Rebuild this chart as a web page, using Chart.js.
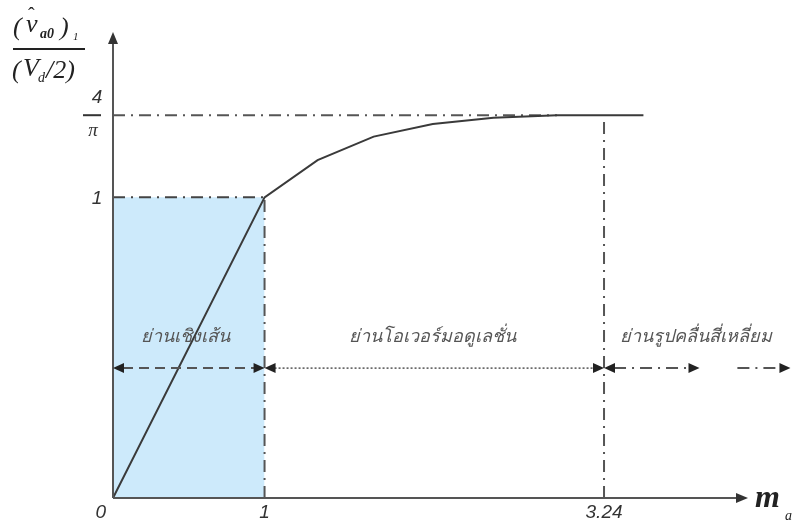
<!DOCTYPE html>
<html>
<head>
<meta charset="utf-8">
<script src="https://cdn.jsdelivr.net/npm/chart.js@4"></script>
<style>
  html,body{margin:0;padding:0;background:#fff}
  #wrap{width:796px;height:527px;position:relative}
</style>
</head>
<body>
<div id="wrap"><canvas id="ma-chart"></canvas></div>
<script>
// fundamental output vs. modulation index
const curveX = [0, 1, 1.35, 1.72, 2.11, 2.51, 2.93, 3.50];
const curveY = [0, 1, 1.124, 1.202, 1.244, 1.265, 1.273, 1.273];
const SQ = 4 / Math.PI;

const xTicks = [0, 1, 3.24];
const xTickLabels = ['0', '1', '3.24'];
const yTicks = [1, SQ];

const regionNames = ['ย่านเชิงเส้น', 'ย่านโอเวอร์มอดูเลชั่น', 'ย่านรูปคลื่นสี่เหลี่ยม'];
const regionCenters = [0.48, 2.11, 3.85];
const regionStarts = [0, 1, 3.24, 4.12];
const regionEnds = [1, 3.24, 3.87, 4.47];
const arrowLevel = 0.432;

const pts = (xs, ys) => xs.map((x, i) => ({ x, y: ys[i] }));
const DASHDOT = [12, 6, 2, 6];

const overlay = {
  id: 'overlay',
  afterDraw(chart) {
    const { ctx, scales: { x, y } } = chart;
    const px = v => x.getPixelForValue(v), py = v => y.getPixelForValue(v);
    const x0 = px(0), y0 = py(0);
    ctx.save();

    const head = (tx, ty, dir, len, w) => {
      ctx.beginPath();
      if (dir === 'r') { ctx.moveTo(tx, ty); ctx.lineTo(tx - len, ty - w); ctx.lineTo(tx - len, ty + w); }
      if (dir === 'l') { ctx.moveTo(tx, ty); ctx.lineTo(tx + len, ty - w); ctx.lineTo(tx + len, ty + w); }
      if (dir === 'u') { ctx.moveTo(tx, ty); ctx.lineTo(tx - w, ty + len); ctx.lineTo(tx + w, ty + len); }
      ctx.closePath(); ctx.fill();
    };

    // axes with arrows
    ctx.strokeStyle = '#555'; ctx.fillStyle = '#333'; ctx.lineWidth = 2;
    ctx.beginPath(); ctx.moveTo(x0, y0); ctx.lineTo(x0, chart.chartArea.top + 8); ctx.stroke();
    head(x0, chart.chartArea.top, 'u', 12, 5);
    ctx.beginPath(); ctx.moveTo(x0, y0); ctx.lineTo(chart.chartArea.right - 8, y0); ctx.stroke();
    head(chart.chartArea.right, y0, 'r', 12, 5);

    // region arrows
    const ay = py(arrowLevel);
    const styles = [[10, 6], [2, 2], [12, 6, 2, 6], [12, 6, 2, 6]];
    ctx.strokeStyle = '#555'; ctx.fillStyle = '#222';
    regionStarts.forEach((s, i) => {
      const a = px(s), b = px(regionEnds[i]);
      ctx.lineWidth = i === 1 ? 1.5 : 2;
      ctx.setLineDash(styles[i]);
      ctx.beginPath(); ctx.moveTo(a + (i < 3 ? 10 : 0), ay); ctx.lineTo(b - 10, ay); ctx.stroke();
      ctx.setLineDash([]);
      if (i < 3) head(a, ay, 'l', 11, 5);
      head(b, ay, 'r', 11, 5);
    });

    // region names
    ctx.fillStyle = '#555';
    ctx.font = 'italic 18px "Liberation Sans", "DejaVu Sans", sans-serif';
    ctx.textAlign = 'center'; ctx.textBaseline = 'alphabetic';
    regionNames.forEach((n, i) => ctx.fillText(n, px(regionCenters[i]), 342));

    // tick labels
    ctx.fillStyle = '#333';
    ctx.font = 'italic 19px "Liberation Sans", Arial, sans-serif';
    ctx.textBaseline = 'middle';
    xTicks.forEach((v, i) => {
      ctx.textAlign = v === 0 ? 'right' : 'center';
      ctx.fillText(xTickLabels[i], v === 0 ? px(v) - 7 : px(v), y0 + 15);
    });
    ctx.textAlign = 'center';
    ctx.fillText('1', x0 - 16, py(yTicks[0]) + 1);
    const qy = py(yTicks[1]);
    ctx.fillText('4', x0 - 16, qy - 17);
    ctx.fillRect(x0 - 30, qy - 1, 18, 2);
    ctx.font = 'italic 19px "Liberation Serif", serif';
    ctx.fillText('π', x0 - 20, qy + 16);

    // y title fraction
    ctx.fillStyle = '#222';
    ctx.textAlign = 'left'; ctx.textBaseline = 'alphabetic';
    ctx.font = 'italic 26px "Liberation Serif", serif';
    ctx.fillText('(', 13, 35);
    ctx.fillText('v', 26, 32);
    ctx.font = '20px "Liberation Serif", serif';
    ctx.fillText('ˆ', 28, 22);
    ctx.font = 'italic bold 14px "Liberation Serif", serif';
    ctx.fillText('a0', 40, 38);
    ctx.font = 'italic 26px "Liberation Serif", serif';
    ctx.fillText(')', 60, 35);
    ctx.font = 'italic 11px "Liberation Serif", serif';
    ctx.fillText('1', 73, 40);
    ctx.fillRect(13, 48, 72, 2);
    ctx.font = 'italic 26px "Liberation Serif", serif';
    ctx.fillText('(', 12, 78);
    ctx.fillText('V', 23, 76);
    ctx.font = 'italic 14px "Liberation Serif", serif';
    ctx.fillText('d', 38, 82);
    ctx.font = 'italic 26px "Liberation Serif", serif';
    ctx.fillText('/2)', 46, 78);

    // x title
    ctx.font = 'italic bold 32px "Liberation Serif", serif';
    ctx.fillText('m', 755, 507);
    ctx.font = 'italic 14px "Liberation Serif", serif';
    ctx.fillText('a', 785, 520);

    ctx.restore();
  }
};

new Chart(document.getElementById('ma-chart'), {
  type: 'line',
  data: {
    datasets: [
      { data: pts(curveX, curveY), borderColor: '#3a3a3a', borderWidth: 2, pointRadius: 0, tension: 0 },
      { data: pts([0, 2.93], [SQ, SQ]), borderColor: '#555', borderWidth: 2, borderDash: DASHDOT, pointRadius: 0 },
      { data: pts([0, 1], [1, 1]), borderColor: '#444', borderWidth: 2, borderDash: DASHDOT, pointRadius: 0 },
      { data: pts([1, 1], [0, 1]), borderColor: '#555', borderWidth: 2, borderDash: DASHDOT, pointRadius: 0 },
      { data: pts([3.24, 3.24], [0, SQ]), borderColor: '#555', borderWidth: 2, borderDash: DASHDOT, pointRadius: 0 },
      { data: pts([0, 1], [1, 1]), borderWidth: 0, borderColor: 'rgba(0,0,0,0)', backgroundColor: '#cdeafb', fill: 'origin', pointRadius: 0 },
    ],
  },
  options: {
    responsive: true, maintainAspectRatio: false, animation: false,
    layout: { padding: { left: 113, right: 48, top: 32, bottom: 29 } },
    plugins: { legend: { display: false }, tooltip: { enabled: false } },
    scales: {
      x: { type: 'linear', min: 0, max: 4.19, display: false },
      y: { type: 'linear', min: 0, max: 1.55, display: false },
    },
  },
  plugins: [overlay],
});
</script>
</body>
</html>
